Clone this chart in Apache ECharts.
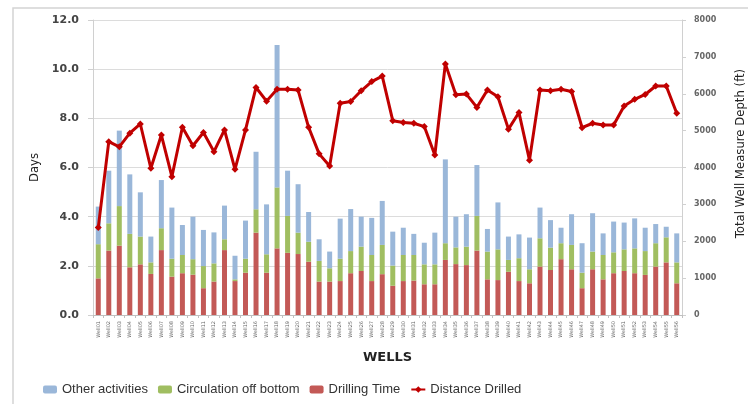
<!DOCTYPE html>
<html>
<head>
<meta charset="utf-8">
<script src="https://cdn.jsdelivr.net/npm/echarts@6/dist/echarts.min.js"></script>
<style>
  html, body { margin: 0; padding: 0; background: #fff; }
  #chart { width: 748px; height: 404px; }
</style>
</head>
<body>
<div id="chart"></div>
<script>
// Well names along the x axis
const wells = Array.from({ length: 56 }, (_, i) => 'Well' + String(i + 1).padStart(2, '0'));

// Days spent per well, split by activity (stacked from the bottom up)
const drillingTime = [1.49, 2.62, 2.82, 1.94, 2.06, 1.67, 2.64, 1.56, 1.70, 1.64, 1.09, 1.36, 2.64, 1.38, 1.72, 3.35, 1.72, 2.71,
  2.53, 2.48, 2.17, 1.36, 1.36, 1.38, 1.70, 1.79, 1.38, 1.66, 1.19, 1.38, 1.40, 1.25, 1.25, 2.24, 2.07, 2.03, 2.62,
  1.45, 1.42, 1.76, 1.38, 1.29, 1.97, 1.83, 2.27, 1.86, 1.09, 1.86, 1.45, 1.70, 1.79, 1.70, 1.63, 1.97, 2.14, 1.29];

const circulationOffBottom = [1.39, 1.11, 1.61, 1.36, 1.13, 0.47, 0.89, 0.73, 0.74, 0.63, 0.90, 0.74, 0.44, 0.07, 0.57, 0.95, 0.75, 2.48,
  1.50, 0.87, 0.81, 0.84, 0.54, 0.91, 0.90, 0.99, 1.06, 1.19, 0.82, 1.06, 1.04, 0.81, 0.81, 0.68, 0.68, 0.75, 1.41,
  1.13, 1.25, 0.48, 0.93, 0.57, 1.15, 0.91, 0.65, 0.99, 0.63, 0.72, 0.99, 0.85, 0.88, 1.01, 0.97, 0.95, 1.02, 0.85];

const otherActivities = [1.53, 2.14, 3.07, 2.42, 1.80, 1.05, 1.96, 2.08, 1.22, 1.73, 1.47, 1.26, 1.37, 0.96, 1.55, 2.34, 2.03, 5.79,
  1.84, 1.97, 1.21, 0.88, 0.68, 1.63, 1.71, 1.22, 1.51, 1.79, 1.38, 1.11, 0.86, 0.88, 1.29, 3.41, 1.25, 1.32, 2.07,
  0.92, 1.91, 0.95, 0.97, 1.29, 1.25, 1.12, 0.63, 1.25, 1.20, 1.56, 0.88, 1.25, 1.09, 1.22, 0.95, 0.78, 0.43, 1.18];

// Total measured depth drilled per well (ft)
const distanceDrilled = [2370, 4700, 4560, 4930, 5180, 3980, 4880, 3750, 5090, 4590, 4950, 4430, 5020, 3950, 5020, 6170, 5800, 6120,
  6120, 6100, 5090, 4370, 4040, 5740, 5790, 6080, 6330, 6480, 5270, 5220, 5200, 5110, 4340, 6810, 5970, 5990, 5630,
  6100, 5920, 5040, 5490, 4200, 6100, 6080, 6120, 6060, 5080, 5200, 5150, 5150, 5670, 5850, 5980, 6210, 6210, 5470];

// Axis tick labels
const dayTicks = [0, 2, 4, 6, 8, 10, 12];
const depthTicks = [0, 1000, 2000, 3000, 4000, 5000, 6000, 7000, 8000];

const chart = echarts.init(document.getElementById('chart'), null, { renderer: 'canvas' });

const barW = 5;
const stackStyle = (color) => ({ color: color, opacity: 0.95 });

chart.setOption({
  animation: false,
  backgroundColor: '#ffffff',
  graphic: [{
    type: 'rect',
    shape: { x: 13, y: 8, width: 760, height: 420 },
    style: { fill: 'none', stroke: '#d4d4d4', lineWidth: 1.5 },
    silent: true
  }],
  grid: { left: 93, right: 66, top: 20, bottom: 89, containLabel: false, outerBoundsMode: 'none' },
  legend: {
    data: ['Other activities', 'Circulation off bottom', 'Drilling Time', 'Distance Drilled'],
    left: 38, top: 378,
    itemWidth: 14, itemHeight: 8, itemGap: 10,
    textStyle: { fontFamily: 'Liberation Sans', fontSize: 13, color: '#333' }
  },
  xAxis: {
    type: 'category',
    data: wells,
    name: 'WELLS',
    nameLocation: 'middle',
    nameGap: 36,
    nameTextStyle: { fontFamily: 'DejaVu Sans', fontWeight: 'bold', fontSize: 13, color: '#222' },
    axisLine: { lineStyle: { color: '#bfbfbf' } },
    axisTick: { show: true, alignWithLabel: false, length: 3, lineStyle: { color: '#bfbfbf' } },
    axisLabel: { interval: 0, rotate: 90, fontSize: 5, color: '#666', margin: 6, fontFamily: 'DejaVu Sans' }
  },
  yAxis: [{
    type: 'value',
    min: 0, max: 12, interval: 2,
    name: 'Days',
    nameLocation: 'middle',
    nameGap: 50,
    nameRotate: 90,
    nameTextStyle: { fontFamily: 'DejaVu Sans Condensed', fontSize: 13, color: '#222' },
    axisLine: { show: true, lineStyle: { color: '#d0d0d0' } },
    axisTick: { show: true, length: 5, lineStyle: { color: '#d0d0d0' } },
    axisLabel: {
      fontFamily: 'DejaVu Sans', fontWeight: 'bold', fontSize: 11, color: '#444', margin: 14,
      formatter: (v) => dayTicks.includes(v) ? v.toFixed(1) : ''
    },
    splitLine: { show: true, lineStyle: { color: '#dcdcdc', width: 1 } }
  }, {
    type: 'value',
    min: 0, max: 8000, interval: 1000,
    name: 'Total Well Measure Depth (ft)',
    nameLocation: 'middle',
    nameGap: 52,
    nameRotate: 90,
    nameTextStyle: { fontFamily: 'DejaVu Sans Condensed', fontSize: 13, color: '#222', padding: [0, 0, 0, 28] },
    axisLine: { show: true, lineStyle: { color: '#d0d0d0' } },
    axisTick: { show: true, length: 4, lineStyle: { color: '#d0d0d0' } },
    axisLabel: {
      fontFamily: 'DejaVu Sans', fontWeight: 'bold', fontSize: 8, color: '#666', margin: 12,
      formatter: (v) => depthTicks.includes(v) ? String(v) : ''
    },
    splitLine: { show: false }
  }],
  series: [{
    name: 'Drilling Time',
    type: 'bar', stack: 'days', barWidth: barW,
    itemStyle: stackStyle('#c0504d'),
    data: drillingTime
  }, {
    name: 'Circulation off bottom',
    type: 'bar', stack: 'days', barWidth: barW,
    itemStyle: stackStyle('#9bbb59'),
    data: circulationOffBottom
  }, {
    name: 'Other activities',
    type: 'bar', stack: 'days', barWidth: barW,
    itemStyle: stackStyle('#95b3d7'),
    data: otherActivities
  }, {
    name: 'Distance Drilled',
    type: 'line', yAxisIndex: 1,
    symbol: 'diamond', symbolSize: 7,
    lineStyle: { color: '#c00000', width: 3 },
    itemStyle: { color: '#c00000' },
    data: distanceDrilled,
    z: 5
  }]
});
</script>
</body>
</html>
